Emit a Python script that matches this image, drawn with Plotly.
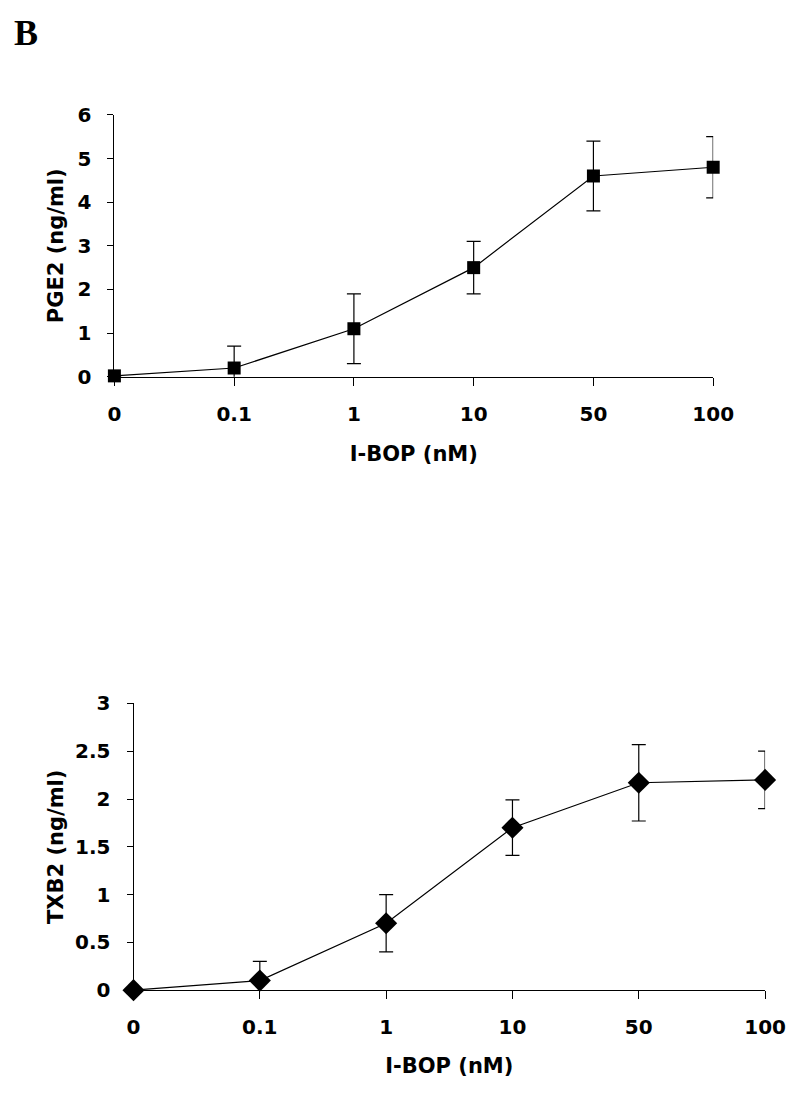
import plotly.graph_objects as go

doses = ["0", "0.1", "1", "10", "50", "100"]
pge2 = [0.02, 0.2, 1.1, 2.5, 4.6, 4.8]
pge2_err = [0.0, 0.5, 0.8, 0.6, 0.8, 0.7]
txb2 = [0.0, 0.1, 0.7, 1.7, 2.17, 2.2]
txb2_err = [0.0, 0.2, 0.3, 0.29, 0.4, 0.3]

W, H = 800, 1099
FONT = "DejaVu Sans, Liberation Sans, Arial, sans-serif"


def fx(p):
    return p / W


def fy(p):
    return 1 - p / H


fig = go.Figure()
fig.add_trace(go.Scatter(
    x=doses, y=pge2, mode="lines+markers", xaxis="x", yaxis="y",
    line=dict(color="black", width=1.2),
    marker=dict(symbol="square", size=13, color="black"),
    error_y=dict(type="data", array=pge2_err, color="black", thickness=1.2, width=7),
    cliponaxis=False, showlegend=False))
fig.add_trace(go.Scatter(
    x=doses, y=txb2, mode="lines+markers", xaxis="x2", yaxis="y2",
    line=dict(color="black", width=1.2),
    marker=dict(symbol="diamond", size=17, color="black"),
    error_y=dict(type="data", array=txb2_err, color="black", thickness=1.2, width=7),
    cliponaxis=False, showlegend=False))

tickfont = dict(family=FONT, size=20, color="black", weight="bold")
xtitlefont = dict(family=FONT, size=21, color="black", weight="bold")
ytitlefont = dict(family=FONT, size=21, color="black", weight="bold")

common_x = dict(type="category", range=[0, 5], showline=True, linecolor="black", linewidth=1,
                ticks="outside", ticklen=8, tickcolor="black", showgrid=False, zeroline=False,
                tickfont=tickfont, ticklabelstandoff=11)
common_y = dict(showline=True, linecolor="black", linewidth=1, ticks="outside", ticklen=6,
                tickcolor="black", showgrid=False, zeroline=False, tickfont=tickfont,
                ticklabelstandoff=12)

fig.update_layout(
    width=W, height=H, margin=dict(l=0, r=0, t=0, b=0),
    plot_bgcolor="white", paper_bgcolor="white",
    xaxis=dict(**common_x, domain=[fx(103), fx(723.5)], anchor="y",
               title=dict(text="I-BOP (nM)", font=xtitlefont, standoff=21)),
    yaxis=dict(**common_y, domain=[fy(364.7), fy(97)], anchor="x", range=[0, 6], dtick=1,
               title=dict(text="PGE2 (ng/ml)", font=ytitlefont, standoff=8)),
    xaxis2=dict(**common_x, domain=[fx(122.8), fx(777.3)], anchor="y2",
                title=dict(text="I-BOP (nM)", font=xtitlefont, standoff=20)),
    yaxis2=dict(**common_y, domain=[fy(991.8), fy(698.7)], anchor="x2", range=[0, 3], dtick=0.5,
                title=dict(text="TXB2 (ng/ml)", font=ytitlefont, standoff=5)),
    font=dict(family=FONT, size=20, color="black"),
)

fig.add_annotation(text="<b>B</b>", x=0, y=1, xref="paper", yref="paper",
                   xanchor="left", yanchor="top", yshift=9, xshift=-3, showarrow=False,
                   font=dict(family="Liberation Serif, Times New Roman, serif", size=36, color="black"))

fig.write_html("out.html")
